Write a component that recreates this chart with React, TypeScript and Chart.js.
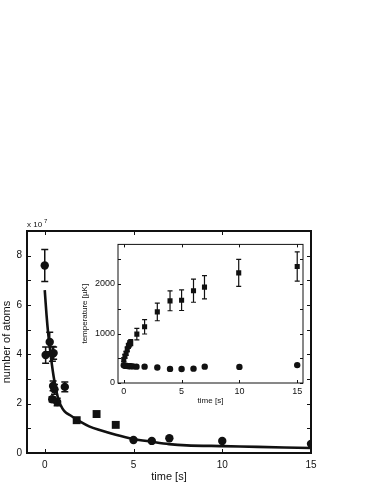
import React, { useEffect, useRef } from "react";
import { Chart, registerables } from "chart.js";

Chart.register(...registerables);

// ---------- Main chart data (number of atoms, units of 1e7) ----------
const mainCircleX = [0, 0.05, 0.28, 0.43, 0.5, 0.47, 0.55, 0.42, 0.7, 1.13, 5.0, 6.03, 7.02, 10.0, 15.0];
const mainCircleY = [7.6, 3.97, 4.5, 4.02, 4.05, 2.72, 2.58, 2.18, 2.07, 2.68, 0.53, 0.49, 0.6, 0.49, 0.37];
const mainCircleErr = [0.65, 0.33, 0.4, 0.3, 0.25, 0.2, 0.2, 0.1, 0.15, 0.2, 0, 0, 0, 0, 0];
const mainSquareX = [1.8, 2.92, 4.0];
const mainSquareY = [1.33, 1.58, 1.14];
const fitX = [0, 0.1, 0.2, 0.3, 0.4, 0.5, 0.6, 0.8, 1.0, 1.2, 1.5, 2, 2.5, 3, 4, 5, 6, 7, 8, 10, 12, 15];
const fitY = [6.6, 5.6, 4.8, 4.2, 3.6, 3.1, 2.7, 2.1, 1.8, 1.63, 1.5, 1.27, 1.08, 0.95, 0.74, 0.57, 0.46, 0.36, 0.31, 0.28, 0.25, 0.2];
const mainYTickMarks = [0, 1, 2, 3, 4, 5, 6, 7, 8, 9];
const mainYLabels = [0, 2, 4, 6, 8];
const mainXTicks = [0, 5, 10, 15];

// ---------- Inset data (temperature, µK) ----------
const insetSquareX = [0, 0.1, 0.2, 0.3, 0.4, 0.5, 0.6, 1.13, 1.8, 2.9, 4.0, 5.0, 6.03, 6.98, 9.94, 15.0];
const insetSquareY = [470, 540, 600, 680, 750, 790, 815, 987, 1135, 1436, 1660, 1673, 1865, 1936, 2225, 2352];
const insetSquareErr = [40, 40, 40, 50, 50, 60, 60, 115, 145, 178, 200, 208, 234, 235, 273, 295];
const insetCircleX = [0, 0.1, 0.2, 0.3, 0.4, 0.5, 0.6, 0.8, 1.1, 1.8, 2.9, 4.0, 5.0, 6.03, 7.0, 10.0, 15.0];
const insetCircleY = [360, 350, 345, 345, 340, 340, 340, 335, 330, 330, 312, 285, 282, 290, 330, 325, 362];
const insetYTickMarks = [0, 500, 1000, 1500, 2000, 2500];
const insetYLabels = [0, 1000, 2000];
const insetXTicks = [0, 5, 10, 15];

const INK = "#111111";
const FONT = "'Liberation Sans', Arial, sans-serif";

function pts(xs: number[], ys: number[]) {
  return xs.map((x, i) => ({ x, y: ys[i] }));
}

function fixedTicks(values: number[]) {
  return (scale: any) => {
    scale.ticks = values.map((v) => ({ value: v }));
  };
}

const framePlugin = {
  id: "frame",
  afterDraw(chart: any, _args: any, opts: any) {
    const { ctx, chartArea: a, scales } = chart;
    const xs = scales.x;
    const ys = scales.y;
    ctx.save();
    // error bars
    chart.data.datasets.forEach((ds: any) => {
      if (!ds.err) return;
      ctx.strokeStyle = INK;
      ctx.lineWidth = opts.errWidth;
      ds.data.forEach((p: any, i: number) => {
        const e = ds.err[i];
        if (!e) return;
        const px = xs.getPixelForValue(p.x);
        const y1 = ys.getPixelForValue(p.y + e);
        const y2 = ys.getPixelForValue(p.y - e);
        const c = opts.cap;
        ctx.beginPath();
        ctx.moveTo(px, y1);
        ctx.lineTo(px, y2);
        ctx.moveTo(px - c, y1);
        ctx.lineTo(px + c, y1);
        ctx.moveTo(px - c, y2);
        ctx.lineTo(px + c, y2);
        ctx.stroke();
      });
    });
    // frame
    ctx.strokeStyle = INK;
    ctx.lineWidth = opts.frameWidth;
    ctx.strokeRect(a.left, a.top, a.right - a.left, a.bottom - a.top);
    // inward ticks
    ctx.lineWidth = 1;
    const tl = opts.tickLen;
    ctx.beginPath();
    opts.xTicks.forEach((v: number) => {
      const px = Math.round(xs.getPixelForValue(v)) + 0.5;
      ctx.moveTo(px, a.bottom);
      ctx.lineTo(px, a.bottom - tl);
      ctx.moveTo(px, a.top);
      ctx.lineTo(px, a.top + tl);
    });
    opts.yTicks.forEach((v: number) => {
      const py = Math.round(ys.getPixelForValue(v)) + 0.5;
      ctx.moveTo(a.left, py);
      ctx.lineTo(a.left + tl, py);
      ctx.moveTo(a.right, py);
      ctx.lineTo(a.right - tl, py);
    });
    ctx.stroke();
    if (opts.exponent) {
      ctx.fillStyle = INK;
      ctx.font = `8px ${FONT}`;
      ctx.textBaseline = "middle";
      ctx.textAlign = "left";
      ctx.fillText("x 10", a.left, a.top - 6);
      ctx.font = `6px ${FONT}`;
      ctx.fillText(opts.exponent, a.left + 17, a.top - 10);
    }
    ctx.restore();
  },
};

export default function App() {
  const mainRef = useRef<HTMLCanvasElement>(null);
  const insetRef = useRef<HTMLCanvasElement>(null);

  useEffect(() => {
    document.body.style.margin = "0";
    const main = new Chart(mainRef.current as HTMLCanvasElement, {
      type: "scatter",
      data: {
        datasets: [
          {
            label: "fit",
            data: pts(fitX, fitY),
            showLine: true,
            borderColor: INK,
            borderWidth: 2.6,
            pointRadius: 0,
            tension: 0.3,
          } as any,
          {
            label: "atoms",
            data: pts(mainCircleX, mainCircleY),
            err: mainCircleErr,
            pointStyle: "circle",
            pointRadius: 4.2,
            backgroundColor: INK,
            borderColor: INK,
            borderWidth: 0,
          } as any,
          {
            label: "atoms2",
            data: pts(mainSquareX, mainSquareY),
            pointStyle: "rect",
            pointRadius: 5.6,
            backgroundColor: INK,
            borderColor: INK,
            borderWidth: 0,
          } as any,
        ],
      },
      options: {
        animation: false,
        responsive: false,
        events: [],
        layout: { padding: { left: 0, top: 231, right: 63, bottom: 0 } },
        plugins: {
          legend: { display: false },
          tooltip: { enabled: false },
          frame: { frameWidth: 2, tickLen: 4, errWidth: 1.5, cap: 3.5, xTicks: mainXTicks, yTicks: mainYTickMarks, exponent: "7" },
        } as any,
        scales: {
          x: {
            type: "linear",
            min: -1,
            max: 15,
            grid: { display: false, drawTicks: false },
            border: { display: false },
            afterBuildTicks: fixedTicks(mainXTicks),
            ticks: { padding: 6, color: INK, font: { family: FONT, size: 10 }, maxRotation: 0, autoSkip: false },
            title: { display: true, text: "time [s]", color: INK, font: { family: FONT, size: 11 }, padding: { top: 0, bottom: 0 } },
            afterFit: (s: any) => { s.height = 31; },
          },
          y: {
            type: "linear",
            min: 0,
            max: 9,
            grid: { display: false, drawTicks: false },
            border: { display: false },
            afterBuildTicks: fixedTicks(mainYLabels),
            ticks: { padding: 5, color: INK, font: { family: FONT, size: 10 }, autoSkip: false },
            title: { display: true, text: "number of atoms", color: INK, font: { family: FONT, size: 11 }, padding: { top: 0, bottom: 0 } },
            afterFit: (s: any) => { s.width = 27; },
          },
        },
      },
      plugins: [framePlugin],
    });

    const inset = new Chart(insetRef.current as HTMLCanvasElement, {
      type: "scatter",
      data: {
        datasets: [
          {
            label: "T1",
            data: pts(insetSquareX, insetSquareY),
            err: insetSquareErr,
            pointStyle: "rect",
            pointRadius: 3.6,
            backgroundColor: INK,
            borderColor: INK,
            borderWidth: 0,
          } as any,
          {
            label: "T2",
            data: pts(insetCircleX, insetCircleY),
            pointStyle: "circle",
            pointRadius: 3.2,
            backgroundColor: INK,
            borderColor: INK,
            borderWidth: 0,
          } as any,
        ],
      },
      options: {
        animation: false,
        responsive: false,
        events: [],
        layout: { padding: { left: 0, top: 2, right: 7, bottom: 0 } },
        plugins: {
          legend: { display: false },
          tooltip: { enabled: false },
          frame: { frameWidth: 1, tickLen: 3, errWidth: 1.2, cap: 2.5, xTicks: insetXTicks, yTicks: insetYTickMarks },
        } as any,
        scales: {
          x: {
            type: "linear",
            min: -0.5,
            max: 15.5,
            grid: { display: false, drawTicks: false },
            border: { display: false },
            afterBuildTicks: fixedTicks(insetXTicks),
            ticks: { padding: 3, color: INK, font: { family: FONT, size: 9 }, maxRotation: 0, autoSkip: false },
            title: { display: true, text: "time [s]", color: INK, font: { family: FONT, size: 8 }, padding: { top: 0, bottom: 0 } },
            afterFit: (s: any) => { s.height = 23; },
          },
          y: {
            type: "linear",
            min: 0,
            max: 2800,
            grid: { display: false, drawTicks: false },
            border: { display: false },
            afterBuildTicks: fixedTicks(insetYLabels),
            ticks: { padding: 3, color: INK, font: { family: FONT, size: 9 }, autoSkip: false, callback: (v: any) => String(v) },
            title: { display: true, text: "temperature [µK]", color: INK, font: { family: FONT, size: 8 }, padding: { top: 0, bottom: 0 } },
            afterFit: (s: any) => { s.width = 38; },
          },
        },
      },
      plugins: [framePlugin],
    });

    return () => {
      main.destroy();
      inset.destroy();
    };
  }, []);

  return (
    <div style={{ position: "fixed", left: 0, top: 0, width: 374, height: 484, background: "#fff" }}>
      <canvas ref={mainRef} width={374} height={484} style={{ position: "absolute", left: 0, top: 0, width: 374, height: 484 }} />
      <canvas ref={insetRef} width={230} height={170} style={{ position: "absolute", left: 80, top: 236, width: 230, height: 170 }} />
    </div>
  );
}
